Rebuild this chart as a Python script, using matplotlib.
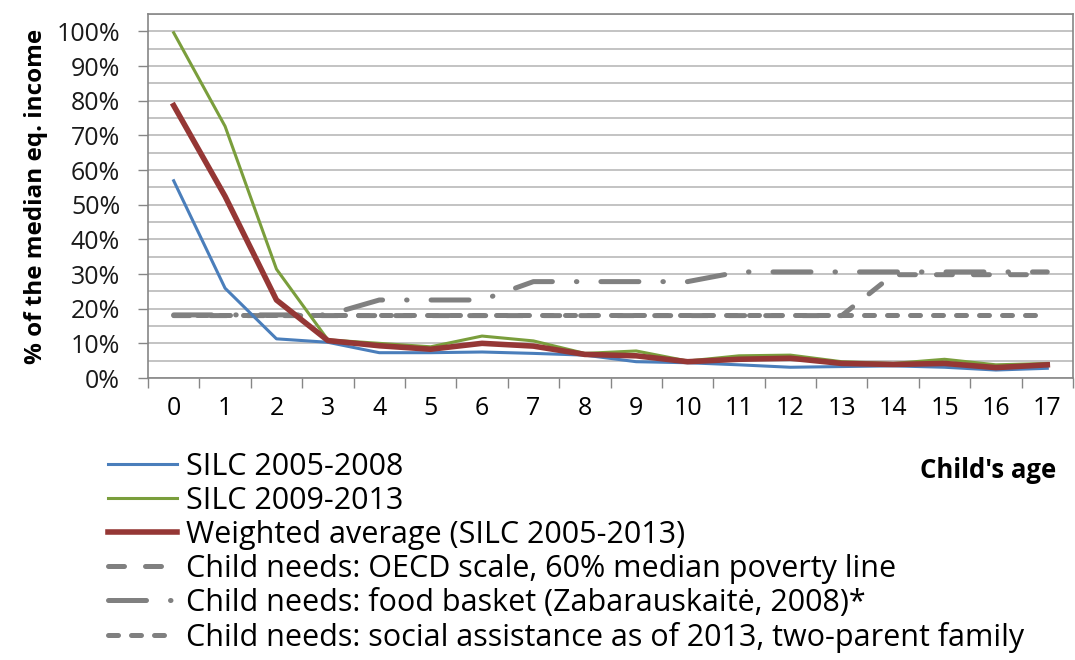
import matplotlib
matplotlib.use("Agg")
import matplotlib.pyplot as plt
from matplotlib.ticker import MultipleLocator, FuncFormatter

plt.rcParams['font.family'] = ['Open Sans', 'DejaVu Sans']

# donnees (en fraction du revenu median)
ages = list(range(18))
silc_0508 = [0.569, 0.259, 0.113, 0.103, 0.073, 0.073, 0.075, 0.071, 0.066, 0.047,
             0.044, 0.038, 0.031, 0.033, 0.035, 0.031, 0.023, 0.028]
silc_0913 = [0.996, 0.726, 0.314, 0.110, 0.100, 0.090, 0.121, 0.107, 0.071, 0.078,
             0.049, 0.064, 0.066, 0.047, 0.042, 0.054, 0.038, 0.042]
weighted = [0.786, 0.524, 0.225, 0.108, 0.093, 0.083, 0.100, 0.092, 0.068, 0.064,
            0.047, 0.054, 0.057, 0.042, 0.039, 0.042, 0.030, 0.038]
oecd = [0.180] * 14 + [0.298] * 4
food = [0.182] * 4 + [0.225] * 3 + [0.278] * 4 + [0.306] * 7
social = [0.182] * 18

labels = ["SILC 2005-2008",
          "SILC 2009-2013",
          "Weighted average (SILC 2005-2013)",
          "Child needs: OECD scale, 60% median poverty line",
          "Child needs: food basket (Zabarauskaitė, 2008)*",
          "Child needs: social assistance as of 2013, two-parent family"]

gris = '#808080'

fig = plt.figure(figsize=(10.75, 6.6), dpi=100)
ax = fig.add_axes([148/1075, 1-378/660, 925/1075, 364/660])

ax.plot(ages, silc_0508, color='#4A7EBB', lw=2.2, label=labels[0], zorder=3)
ax.plot(ages, silc_0913, color='#7A9E3C', lw=2.2, label=labels[1], zorder=3)
ax.plot(ages, weighted, color='#953735', lw=4, label=labels[2], zorder=4)
ax.plot(ages, oecd, color=gris, lw=3.6, ls=(0, (3.2, 4.2)), dash_capstyle='round',
        label=labels[3], zorder=2)
ax.plot(ages, food, color=gris, lw=3.6, ls=(0, (7.6, 4.8, 0.1, 4.8)),
        dash_capstyle='round', label=labels[4], zorder=2)
ax.plot(ages, social, color=gris, lw=3.6, ls=(0, (2.0, 2.6)), dash_capstyle='round',
        label=labels[5], zorder=2)

ax.set_xlim(-0.5, 17.5)
ax.set_ylim(0, 1.05)

# axe y
ax.yaxis.set_major_locator(MultipleLocator(0.1))
ax.yaxis.set_minor_locator(MultipleLocator(0.05))
ax.yaxis.set_major_formatter(FuncFormatter(lambda v, p: '%d%%' % round(v*100)))
ax.grid(axis='y', which='both', color='#BEBEBE', lw=1.3)
ax.set_axisbelow(True)
ax.tick_params(axis='y', which='major', length=7, width=1, color='#868686',
               labelsize=18, pad=13, colors='#1a1a1a')
ax.tick_params(axis='y', which='minor', length=0)

# axe x: etiquettes au centre, traits entre categories
ax.set_xticks(ages)
ax.set_xticks([a - 0.5 for a in ages] + [17.5], minor=True)
ax.tick_params(axis='x', which='major', length=0, labelsize=18, pad=13)
ax.tick_params(axis='x', which='minor', length=7, width=1, color='#868686')

for s in ax.spines.values():
    s.set_color('#868686')
    s.set_linewidth(1.2)

ax.set_ylabel("% of the median eq. income", fontsize=17.5, fontweight='bold', labelpad=6)
fig.text(988/1075, 1-470/660, "Child's age", fontsize=18.5, fontweight='bold',
         ha='center', va='center')

fig.legend(loc='upper left', bbox_to_anchor=(108/1075, 1-452/660), frameon=False,
           fontsize=22, handlelength=2.25, handletextpad=0.3, labelspacing=0.13,
           borderpad=0, borderaxespad=0)

fig.savefig('out.png', dpi=100)
